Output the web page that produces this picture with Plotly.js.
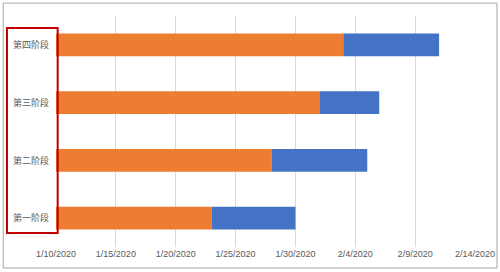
<!DOCTYPE html>
<html><head><meta charset="utf-8">
<script src="https://cdn.plot.ly/plotly-3.0.1.min.js"></script>
<style>html,body{margin:0;padding:0;background:#fff}#c{width:500px;height:272px}</style>
</head><body><div id="c"></div>
<script>
const stages = ['第一阶段', '第二阶段', '第三阶段', '第四阶段'];
const axisStart = '2020-01-10';
const axisEnd = '2020-02-14';
const startDates = ['2020-01-23', '2020-01-28', '2020-02-01', '2020-02-03'];
const durations = [7, 8, 5, 8];

const DAY = 86400000;
const t0 = Date.parse(axisStart + 'T00:00:00Z');
const orangeLen = startDates.map(d => Date.parse(d + 'T00:00:00Z') - t0);

const data = [
  {type:'bar', orientation:'h', y:stages, x:orangeLen, base:stages.map(()=>axisStart),
   marker:{color:'#ED7D31'}, hoverinfo:'skip', name:'开始'},
  {type:'bar', orientation:'h', y:stages, x:durations.map(d=>d*DAY), base:startDates,
   marker:{color:'#4472C4'}, hoverinfo:'skip', name:'持续'}
];
const layout = {
  width:500, height:272, showlegend:false, barmode:'overlay', bargap:0.61,
  margin:{l:56, r:25, t:16, b:25},
  paper_bgcolor:'#fff', plot_bgcolor:'#fff',
  xaxis:{type:'date', range:[axisStart, axisEnd], tick0:axisStart, dtick:5*DAY,
    tickformat:'%-m/%-d/%Y', showgrid:true, gridcolor:'#D9D9D9', gridwidth:1,
    zeroline:false, showline:false, ticks:'',
    tickfont:{family:'Liberation Sans, Arial', size:9, color:'#595959'}},
  yaxis:{type:'category', showgrid:false, zeroline:false, showline:false, ticks:'',
    ticklabelstandoff:6,
    tickfont:{family:'Noto Sans CJK SC', size:9, color:'#595959'}},
  shapes:[
    {type:'rect', xref:'paper', yref:'paper', x0:-0.126, x1:1.0525, y0:-0.091, y1:1.056,
     line:{color:'#A6A6A6', width:1}, fillcolor:'rgba(0,0,0,0)'},
    {type:'rect', xref:'paper', yref:'paper', x0:-0.117, x1:0.004, y0:0.061, y1:0.948,
     line:{color:'#C00000', width:2}, fillcolor:'rgba(0,0,0,0)'}
  ]
};
Plotly.newPlot('c', data, layout, {displayModeBar:false, staticPlot:true});
</script></body></html>
